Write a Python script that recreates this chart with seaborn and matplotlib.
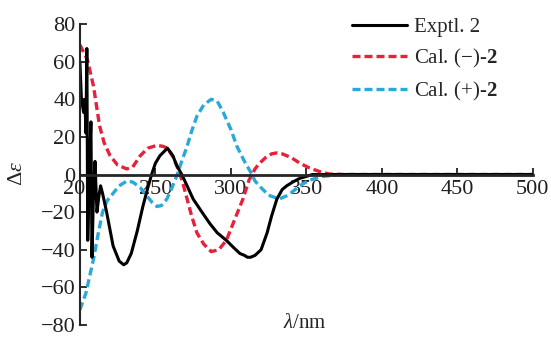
import numpy as np
import pandas as pd
import matplotlib
matplotlib.use("Agg")
import matplotlib.pyplot as plt
import seaborn as sns

# CD spectra
exp_wl = [200, 201, 202.5, 203.3, 204, 204.6, 205.2, 206, 207.3, 208, 209, 210, 211.3, 212.5,
          213.7, 215, 217.7, 222, 226, 229, 231, 234, 238, 241.7, 245, 247.5, 250, 253, 258,
          261.6, 264, 267.5, 271, 275, 280, 286, 291, 297, 302, 306, 309, 311, 313, 316, 320,
          324, 327, 330.5, 334, 337, 341, 345.7, 350, 354, 360, 380, 400, 450, 500]
exp_de = [60, 40, 33, 40, 22, 67, -35, -5, 28, -44, -10, 7, -20, -12,
          -6, -10, -20, -38, -46, -48, -47, -42, -30, -17, -7, 0, 6, 10, 14,
          10, 5, 0, -6, -13, -19, -26, -31, -35, -39, -42, -43, -44, -44, -43, -40,
          -31, -22, -13, -8, -6, -4, -2, -1, 0, 0, 0, 0, 0, 0]

neg_wl = [200, 205, 209, 213, 216, 220, 225, 231, 235, 240, 245, 251, 255, 258, 262, 265, 268,
          271, 274, 277.5, 282, 287, 292, 297, 302, 308, 312, 316, 319, 323, 327, 330.5, 334,
          340, 345.7, 352, 359, 365, 375, 400, 500]
neg_de = [69, 61, 47, 26, 17, 10, 5, 3, 4, 10, 14, 15.5, 15, 14, 9, 3, -4,
          -13, -22, -31, -37, -41, -40, -35, -25, -13, -3, 3, 6, 9, 11, 11.5, 11,
          9, 6, 3.5, 1.5, 0.3, 0, 0, 0]

pos_wl = [200, 204, 209, 212, 215, 218, 222, 226, 231, 235, 240, 244, 248, 251, 254, 257.6,
          261, 264, 267, 271, 274, 277.5, 282, 287, 291, 295, 300, 304, 309, 314, 316, 320,
          325, 332, 338, 345.7, 352, 361, 372, 400, 500]
pos_de = [-72, -63, -45, -32, -20, -14, -10, -6, -3.5, -4, -7, -11, -15, -17, -16.5, -13,
          -7, -1, 6, 15, 23, 31, 37, 40, 39, 33, 24, 15, 7, 0, -3.5, -7,
          -11, -13, -11, -6, -3, -1, 0, 0, 0]

labels = ["Exptl. 2", "Cal. (\u2212)-$\\mathbf{2}$", "Cal. (+)-$\\mathbf{2}$"]

sns.set_style("ticks")
plt.rcParams["font.family"] = ["Liberation Serif", "DejaVu Serif"]
plt.rcParams["mathtext.fontset"] = "custom"
plt.rcParams["mathtext.rm"] = "Liberation Serif"
plt.rcParams["mathtext.it"] = "Liberation Serif:italic"
plt.rcParams["mathtext.bf"] = "Liberation Serif:bold"

fig = plt.figure(figsize=(5.51, 3.54), dpi=100)
ax = fig.add_axes([0.145, 0.082, 0.822, 0.85])

dash = (0, (2.4, 1.2))
sns.lineplot(x=neg_wl, y=neg_de, ax=ax, color="#e8203a", lw=2.4, linestyle=dash, label=labels[1])
sns.lineplot(x=pos_wl, y=pos_de, ax=ax, color="#2aa9d9", lw=2.4, linestyle=dash, label=labels[2])
sns.lineplot(x=exp_wl, y=exp_de, ax=ax, color="black", lw=2.2, label=labels[0], sort=False)

ax.set_xlim(200, 500)
ax.set_ylim(-80, 80)
ax.set_xticks(np.arange(200, 501, 50))
ax.set_yticks(np.arange(-80, 81, 20))
ax.set_yticklabels([str(v).replace("-", "\u2212") for v in range(-80, 81, 20)])

ax.spines["top"].set_visible(False)
ax.spines["right"].set_visible(False)
ax.spines["bottom"].set_position(("data", 0))
ax.spines["bottom"].set_linewidth(2)
ax.spines["left"].set_linewidth(1.5)
ax.tick_params(axis="both", direction="in", length=5, width=1.3, labelsize=16,
               colors="#231f20", pad=3)
ax.tick_params(axis="x", pad=4)

ax.set_ylabel("")
fig.text(0.031, 0.51, "\u0394$\\mathit{\\varepsilon}$", fontsize=16, rotation=90,
         ha="center", va="center")
fig.text(0.553, 0.06, "$\\mathit{\\lambda}$/nm", fontsize=15, ha="center", va="bottom")

h, l = ax.get_legend_handles_labels()
order = [2, 0, 1]
ax.legend([h[i] for i in order], [l[i] for i in order], loc="upper right",
          bbox_to_anchor=(0.915, 0.969), bbox_transform=fig.transFigure, frameon=False,
          fontsize=15, handlelength=2.65, handletextpad=0.35, labelspacing=0.48,
          borderaxespad=0.0, borderpad=0.3)

fig.savefig("out.png", dpi=100)
